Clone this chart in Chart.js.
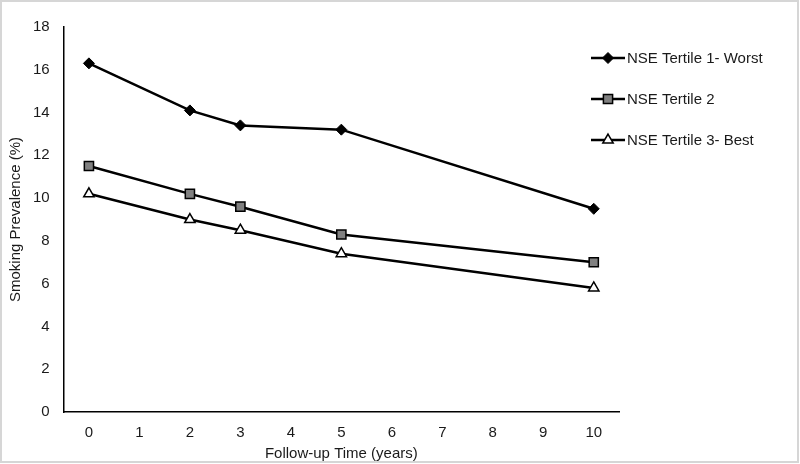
<!DOCTYPE html>
<html>
<head>
<meta charset="utf-8">
<script src="https://cdn.jsdelivr.net/npm/chart.js@4"></script>
<style>
  body { margin: 0; background: #fff; }
  canvas { display: block; }
</style>
</head>
<body>
<canvas id="lineChart" width="800" height="464"></canvas>
<script>
const years = [0, 2, 3, 5, 10];
const xTicks = [0, 1, 2, 3, 4, 5, 6, 7, 8, 9, 10];
const seriesNames = ["NSE Tertile 1- Worst", "NSE Tertile 2", "NSE Tertile 3- Best"];
const tertileWorst = [16.3, 14.1, 13.4, 13.2, 9.5];
const tertileMid = [11.5, 10.2, 9.6, 8.3, 7.0];
const tertileBest = [10.2, 9.0, 8.5, 7.4, 5.8];

const textColor = "#1a1a1a";
const fontFamily = "'Liberation Sans', Arial, sans-serif";

function toPoints(values) {
  return values.map((v, i) => ({ x: years[i], y: v }));
}

// legend drawn by hand so it can sit over the right end of the plot like the original
const sideLegend = {
  id: "sideLegend",
  afterDraw(chart) {
    const ctx = chart.ctx;
    chart.data.datasets.forEach((ds, i) => {
      const y = 58 + i * 41;
      ctx.save();
      ctx.strokeStyle = ds.borderColor;
      ctx.lineWidth = ds.borderWidth;
      ctx.beginPath();
      ctx.moveTo(591, y);
      ctx.lineTo(625, y);
      ctx.stroke();
      ctx.fillStyle = ds.pointBackgroundColor;
      ctx.strokeStyle = ds.pointBorderColor;
      ctx.lineWidth = ds.pointBorderWidth;
      Chart.helpers.drawPoint(ctx, {
        pointStyle: ds.pointStyle,
        radius: ds.pointRadius,
        borderWidth: ds.pointBorderWidth,
      }, 608, y);
      ctx.fillStyle = textColor;
      ctx.font = "15px " + fontFamily;
      ctx.textBaseline = "middle";
      ctx.textAlign = "left";
      ctx.fillText(ds.label, 627, y + 1);
      ctx.restore();
    });
  },
};

const frame = {
  id: "frame",
  beforeDraw(chart) {
    const ctx = chart.ctx;
    ctx.save();
    ctx.fillStyle = "#fff";
    ctx.fillRect(0, 0, chart.width, chart.height);
    ctx.restore();
  },
  afterDraw(chart) {
    const ctx = chart.ctx;
    ctx.save();
    ctx.strokeStyle = "#d6d6d6";
    ctx.lineWidth = 2;
    ctx.strokeRect(1, 1, 797, 461);
    ctx.restore();
  },
};

const ctx = document.getElementById("lineChart").getContext("2d");

new Chart(ctx, {
  type: "line",
  data: {
    datasets: [
      {
        label: seriesNames[0],
        data: toPoints(tertileWorst),
        borderColor: "#000",
        borderWidth: 2.5,
        pointStyle: "rectRot",
        pointRadius: 5.5,
        pointBackgroundColor: "#000",
        pointBorderColor: "#000",
        pointBorderWidth: 1,
      },
      {
        label: seriesNames[1],
        data: toPoints(tertileMid),
        borderColor: "#000",
        borderWidth: 2.5,
        pointStyle: "rect",
        pointRadius: 6.5,
        pointBackgroundColor: "#808080",
        pointBorderColor: "#000",
        pointBorderWidth: 1.5,
      },
      {
        label: seriesNames[2],
        data: toPoints(tertileBest),
        borderColor: "#000",
        borderWidth: 2.5,
        pointStyle: "triangle",
        pointRadius: 6,
        pointBackgroundColor: "#fff",
        pointBorderColor: "#000",
        pointBorderWidth: 1.5,
      },
    ],
  },
  options: {
    responsive: false,
    animation: false,
    layout: {
      padding: { top: 27, right: 181, bottom: 1, left: 6 },
    },
    plugins: {
      legend: { display: false },
      tooltip: { enabled: false },
    },
    scales: {
      x: {
        type: "linear",
        min: -0.5,
        max: 10.5,
        afterBuildTicks: (scale) => {
          scale.ticks = xTicks.map((v) => ({ value: v }));
        },
        grid: { display: false, drawTicks: false },
        border: { color: "#000", width: 1.5 },
        ticks: {
          padding: 12,
          color: textColor,
          font: { family: fontFamily, size: 15 },
        },
        title: {
          display: true,
          text: "Follow-up Time (years)",
          color: textColor,
          font: { family: fontFamily, size: 15 },
          padding: { top: -9, bottom: 0 },
        },
      },
      y: {
        min: 0,
        max: 18,
        grid: { display: false, drawTicks: false },
        border: { color: "#000", width: 1.5 },
        ticks: {
          stepSize: 2,
          padding: 14,
          color: textColor,
          font: { family: fontFamily, size: 15 },
        },
        title: {
          display: true,
          text: "Smoking Prevalence (%)",
          color: textColor,
          font: { family: fontFamily, size: 15 },
          padding: { top: 1, bottom: -6 },
        },
      },
    },
  },
  plugins: [frame, sideLegend],
});
</script>
</body>
</html>
